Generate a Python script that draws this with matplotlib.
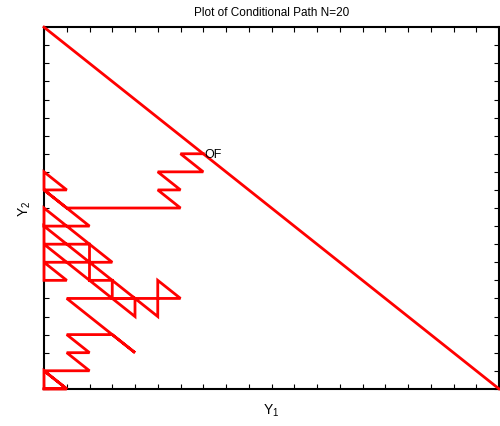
import matplotlib
matplotlib.use("Agg")
import numpy as np
import matplotlib.pyplot as plt

plt.rcParams["font.family"] = ["Liberation Sans", "DejaVu Sans"]
plt.rcParams["mathtext.default"] = "regular"

N = 20

# corners of the conditional path (Y1, Y2)
path_y1 = [0, 1, 0, 0, 1, 0, 2, 1, 2, 1, 3, 4, 3, 1, 6, 5, 5, 4, 4, 0,
           2, 2, 3, 3, 4, 0, 0, 1, 0, 3, 0, 0, 2, 0, 1, 0, 0, 1, 6, 5,
           6, 5, 7, 6, 7]
path_y2 = [0, 0, 1, 0, 0, 1, 1, 2, 2, 3, 3, 2, 3, 5, 5, 6, 4, 5, 4, 8,
           8, 6, 6, 5, 5, 9, 6, 6, 7, 7, 10, 9, 9, 11, 11, 12, 11, 10, 10, 11,
           11, 12, 12, 13, 13]

# overflow boundary Y1 + Y2 = N
boundary_y1 = [0, N]
boundary_y2 = [N, 0]

fig = plt.figure(figsize=(5, 4.27), dpi=100)
ax = fig.add_axes([0.088, 0.087, 0.91, 0.847])

ax.plot(boundary_y1, boundary_y2, color="red", lw=2, zorder=3, clip_on=False)
ax.plot(path_y1, path_y2, color="red", lw=2, zorder=3, clip_on=False,
        solid_joinstyle="miter")
ax.text(7.05, 13, "OF", ha="left", va="center", fontsize=9, zorder=4)

ax.set_xlim(0, N)
ax.set_ylim(0, N)
ax.set_xticks(np.arange(0, N + 1))
ax.set_yticks(np.arange(0, N + 1))
ax.tick_params(direction="in", length=3.5, width=0.8, top=True, right=True,
               labelbottom=False, labelleft=False)
for s in ax.spines.values():
    s.set_linewidth(1.5)

ax.set_title("Plot of Conditional Path N=20", fontsize=8.5, pad=9)
ax.set_xlabel("Y$_1$", fontsize=10, labelpad=9)
ax.set_ylabel("Y$_2$", fontsize=10, labelpad=8)

fig.savefig("out.png", dpi=100)
